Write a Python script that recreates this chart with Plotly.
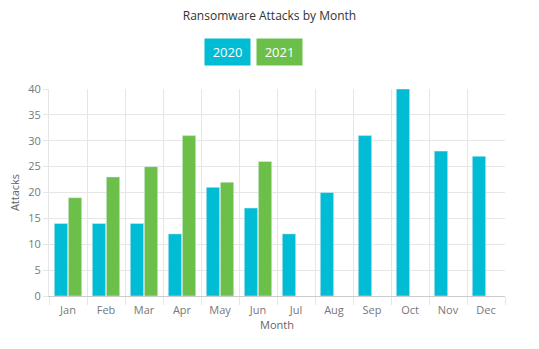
import plotly.graph_objects as go

months = ["Jan", "Feb", "Mar", "Apr", "May", "Jun", "Jul", "Aug", "Sep", "Oct", "Nov", "Dec"]
attacks_2020 = [14, 14, 14, 12, 21, 17, 12, 20, 31, 40, 28, 27]
attacks_2021 = [19, 23, 25, 31, 22, 26, None, None, None, None, None, None]
series_names = ["2020", "2021"]
colors = ["#00BCD4", "#6CC04A"]

fig = go.Figure()
fig.add_trace(go.Bar(x=months, y=attacks_2020, name=series_names[0], marker_color=colors[0]))
fig.add_trace(go.Bar(x=months, y=attacks_2021, name=series_names[1], marker_color=colors[1]))

font_family = "Open Sans, Lato, sans-serif"
fig.update_layout(
    width=539, height=349,
    margin=dict(l=49, r=34, t=89, b=53),
    paper_bgcolor="white", plot_bgcolor="white",
    barmode="group", bargap=0.26, bargroupgap=0.05,
    showlegend=False,
    font=dict(family=font_family, color="#666", size=11),
    title=dict(text="Ransomware Attacks by Month", x=0.5, xanchor="center",
               y=0.955, yanchor="middle", font=dict(size=12, color="#333", family=font_family)),
    xaxis=dict(
        title=dict(text="Month", font=dict(size=11, color="#666"), standoff=5),
        tickson="boundaries", showgrid=True, gridcolor="#e6e6e6",
        showline=True, linecolor="#cccccc", ticks="outside", ticklen=8, tickcolor="#e6e6e6",
        ticklabelstandoff=4,
        tickfont=dict(size=11, color="#777"),
    ),
    yaxis=dict(
        title=dict(text="Attacks", font=dict(size=11, color="#666"), standoff=6),
        range=[0, 40], dtick=5, showgrid=True, gridcolor="#e6e6e6",
        showline=True, linecolor="#e6e6e6", ticks="outside", ticklen=5, tickcolor="#e6e6e6",
        zeroline=False, tickfont=dict(size=11, color="#777"),
    ),
)

# legend as coloured boxes
legend_x = [0.391, 0.506]
for name, col, lx in zip(series_names, colors, legend_x):
    fig.add_annotation(
        text=name, xref="paper", yref="paper", x=lx, y=1.179, xanchor="center", yanchor="middle",
        showarrow=False, bgcolor=col, font=dict(color="white", size=13, family=font_family),
        width=41, height=22, borderpad=2,
    )

fig.write_html("out.html")
